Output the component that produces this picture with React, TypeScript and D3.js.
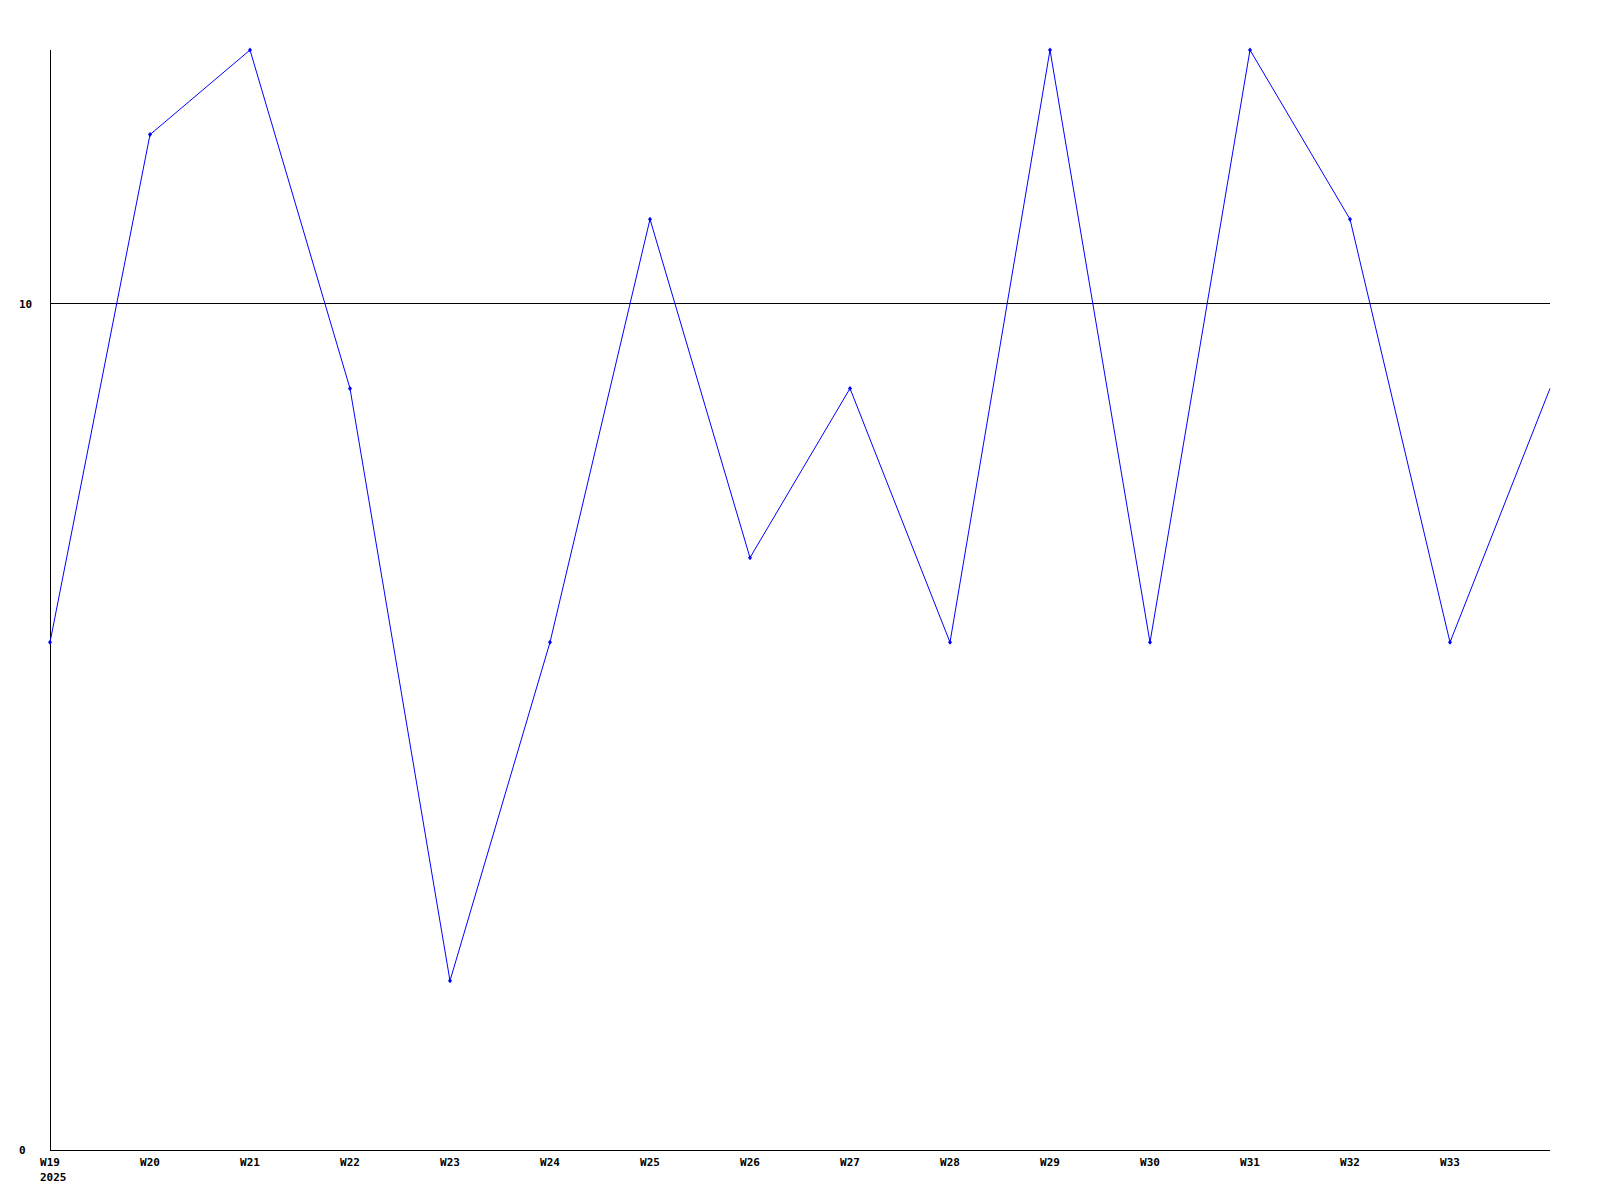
import React from "react";
import * as d3 from "d3";

const weeks = ["W19","W20","W21","W22","W23","W24","W25","W26","W27","W28","W29","W30","W31","W32","W33","W34"];
const values = [6,12,13,9,2,6,11,7,9,6,13,6,13,11,6,9];
const tickLabels = ["W19","W20","W21","W22","W23","W24","W25","W26","W27","W28","W29","W30","W31","W32","W33"];
const yTicks = [0, 10];
const yearLabel = "2025";

export default function App() {
  const W = 1600, H = 1200;
  const x = d3.scaleLinear().domain([0, weeks.length - 1]).range([50, 1550]);
  const y = d3.scaleLinear().domain([0, 13]).range([1150, 50]);
  const line = d3.line<number>().x((_, i) => x(i)).y(d => y(d));
  const font = "'DejaVu Sans Mono', monospace";
  return (
    <svg width={W} height={H} style={{ position: "absolute", left: 0, top: 0, background: "#fff" }}>
      <line x1={50} x2={50} y1={y(13)} y2={y(0)} stroke="#000" strokeWidth={1} shapeRendering="crispEdges" />
      <line x1={50} x2={1550} y1={y(0)} y2={y(0)} stroke="#000" strokeWidth={1} shapeRendering="crispEdges" />
      {yTicks.map(t => (
        <g key={t}>
          {t !== 0 && <line x1={50} x2={1550} y1={y(t)} y2={y(t)} stroke="#000" strokeWidth={1} shapeRendering="crispEdges" />}
          <text x={19} y={y(t)} dy="0.35em" fontFamily={font} fontWeight="bold" fontSize={11} fill="#000">{t}</text>
        </g>
      ))}
      {tickLabels.map((l, i) => (
        <text key={l} x={x(i)} y={1162} dy="0.35em" textAnchor="middle" fontFamily={font} fontWeight="bold" fontSize={11} fill="#000">{l}</text>
      ))}
      <text x={x(0) - 10} y={1177} dy="0.35em" fontFamily={font} fontWeight="bold" fontSize={11} fill="#000">{yearLabel}</text>
      <path d={line(values) || ""} fill="none" stroke="#0000ff" strokeWidth={1} />
      {values.slice(0, tickLabels.length).map((v, i) => (
        <path key={i} d={`M${x(i)},${y(v) - 2.5}L${x(i) + 2},${y(v)}L${x(i)},${y(v) + 2.5}L${x(i) - 2},${y(v)}Z`} fill="#0000ff" />
      ))}
    </svg>
  );
}
